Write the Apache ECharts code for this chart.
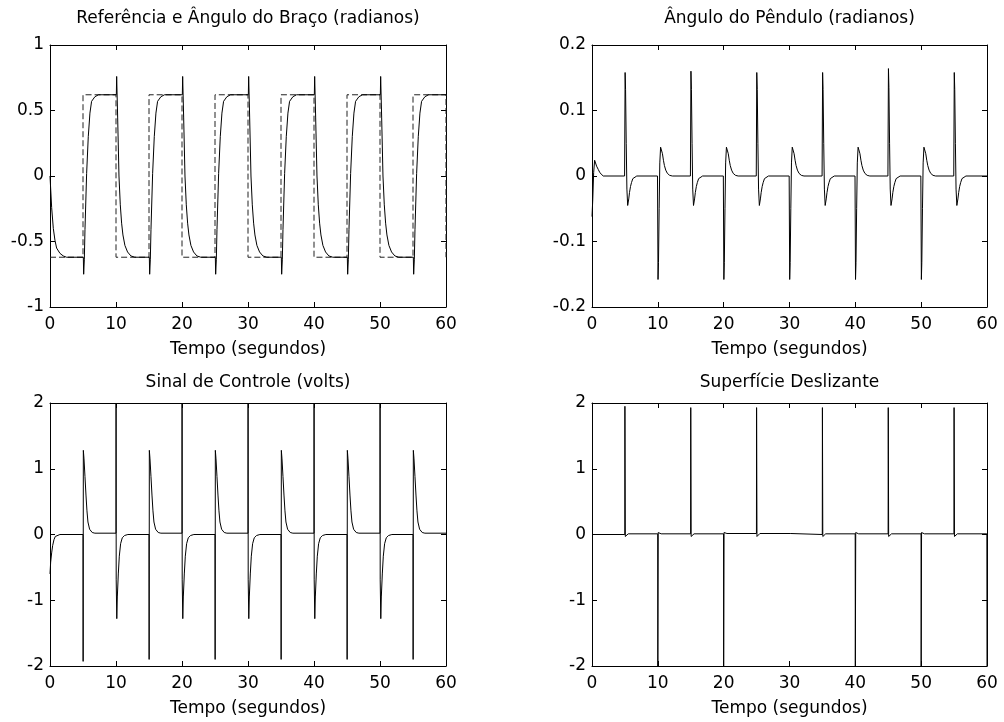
<!DOCTYPE html>
<html><head><meta charset="utf-8">
<script src="https://cdn.jsdelivr.net/npm/echarts@6/dist/echarts.min.js"></script>
<style>html,body{margin:0;padding:0;background:#fff}#c{width:1004px;height:722px}</style>
</head><body><div id="c"></div>
<script>
// ---- data: [tempo (s), valor] ----
const xTicks = [0, 10, 20, 30, 40, 50, 60];
const titles = ['Referência e Ângulo do Braço (radianos)', 'Ângulo do Pêndulo (radianos)', 'Sinal de Controle (volts)', 'Superfície Deslizante'];
const xName = 'Tempo (segundos)';

const armReference = [[0,-0.62],[5,-0.62],[5,0.62],[10,0.62],[10,-0.62],[15,-0.62],[15,0.62],[20,0.62],[20,-0.62],[25,-0.62],[25,0.62],[30,0.62],[30,-0.62],[35,-0.62],[35,0.62],[40,0.62],[40,-0.62],[45,-0.62],[45,0.62],[50,0.62],[50,-0.62],[55,-0.62],[55,0.62],[60,0.62],[60,-0.62]];

const armAngle = [[0,0],[0.25,-0.24],[0.5,-0.4],[0.75,-0.49],[1,-0.55],[1.5,-0.59],[2,-0.61],[2.5,-0.62],
[5.05,-0.62],[5.1,-0.75],[5.2,-0.64],[5.3,-0.41],[5.55,0.02],[5.8,0.3],[6.05,0.48],[6.3,0.57],[6.8,0.605],[7.35,0.62],
[10.05,0.62],[10.1,0.76],[10.25,0.45],[10.45,0],[10.65,-0.22],[10.85,-0.36],[11.05,-0.45],[11.35,-0.53],[11.75,-0.58],[12.25,-0.61],[12.85,-0.62],
[15.05,-0.62],[15.1,-0.75],[15.2,-0.64],[15.3,-0.41],[15.55,0.02],[15.8,0.3],[16.05,0.48],[16.3,0.57],[16.8,0.605],[17.35,0.62],
[20.05,0.62],[20.1,0.76],[20.25,0.45],[20.45,0],[20.65,-0.22],[20.85,-0.36],[21.05,-0.45],[21.35,-0.53],[21.75,-0.58],[22.25,-0.61],[22.85,-0.62],
[25.05,-0.62],[25.1,-0.75],[25.2,-0.64],[25.3,-0.41],[25.55,0.02],[25.8,0.3],[26.05,0.48],[26.3,0.57],[26.8,0.605],[27.35,0.62],
[30.05,0.62],[30.1,0.76],[30.25,0.45],[30.45,0],[30.65,-0.22],[30.85,-0.36],[31.05,-0.45],[31.35,-0.53],[31.75,-0.58],[32.25,-0.61],[32.85,-0.62],
[35.05,-0.62],[35.1,-0.75],[35.2,-0.64],[35.3,-0.41],[35.55,0.02],[35.8,0.3],[36.05,0.48],[36.3,0.57],[36.8,0.605],[37.35,0.62],
[40.05,0.62],[40.1,0.76],[40.25,0.45],[40.45,0],[40.65,-0.22],[40.85,-0.36],[41.05,-0.45],[41.35,-0.53],[41.75,-0.58],[42.25,-0.61],[42.85,-0.62],
[45.05,-0.62],[45.1,-0.75],[45.2,-0.64],[45.3,-0.41],[45.55,0.02],[45.8,0.3],[46.05,0.48],[46.3,0.57],[46.8,0.605],[47.35,0.62],
[50.05,0.62],[50.1,0.76],[50.25,0.45],[50.45,0],[50.65,-0.22],[50.85,-0.36],[51.05,-0.45],[51.35,-0.53],[51.75,-0.58],[52.25,-0.61],[52.85,-0.62],
[55.05,-0.62],[55.1,-0.75],[55.2,-0.64],[55.3,-0.41],[55.55,0.02],[55.8,0.3],[56.05,0.48],[56.3,0.57],[56.8,0.605],[57.35,0.62],
[60,0.62]];

const pendulumAngle = [[0,-0.062],[0.12,-0.035],[0.25,0.005],[0.4,0.024],[0.55,0.021],[0.7,0.015],[0.95,0.01],[1.2,0.005],[1.7,0],
[4.95,0],[5.03,0.158],[5.1,0.132],[5.2,0.05],[5.3,-0.02],[5.42,-0.045],[5.5,-0.046],[5.58,-0.035],[5.7,-0.025],[5.85,-0.016],[6,-0.01],[6.2,-0.004],[6.5,-0.001],[6.8,0],
[9.95,0],[10.03,-0.158],[10.1,-0.132],[10.2,-0.05],[10.3,0.02],[10.42,0.044],[10.5,0.047],[10.6,0.042],[10.7,0.034],[10.85,0.024],[11,0.016],[11.2,0.009],[11.45,0.004],[11.8,0.001],[12.2,0],
[14.95,0],[15.03,0.16],[15.1,0.132],[15.2,0.05],[15.3,-0.02],[15.42,-0.045],[15.5,-0.046],[15.58,-0.035],[15.7,-0.025],[15.85,-0.016],[16,-0.01],[16.2,-0.004],[16.5,-0.001],[16.8,0],
[19.95,0],[20.03,-0.158],[20.1,-0.132],[20.2,-0.05],[20.3,0.02],[20.42,0.044],[20.5,0.047],[20.6,0.042],[20.7,0.034],[20.85,0.024],[21,0.016],[21.2,0.009],[21.45,0.004],[21.8,0.001],[22.2,0],
[24.95,0],[25.03,0.158],[25.1,0.132],[25.2,0.05],[25.3,-0.02],[25.42,-0.045],[25.5,-0.046],[25.58,-0.035],[25.7,-0.025],[25.85,-0.016],[26,-0.01],[26.2,-0.004],[26.5,-0.001],[26.8,0],
[29.95,0],[30.03,-0.158],[30.1,-0.132],[30.2,-0.05],[30.3,0.02],[30.42,0.044],[30.5,0.047],[30.6,0.042],[30.7,0.034],[30.85,0.024],[31,0.016],[31.2,0.009],[31.45,0.004],[31.8,0.001],[32.2,0],
[34.95,0],[35.03,0.158],[35.1,0.132],[35.2,0.05],[35.3,-0.02],[35.42,-0.045],[35.5,-0.046],[35.58,-0.035],[35.7,-0.025],[35.85,-0.016],[36,-0.01],[36.2,-0.004],[36.5,-0.001],[36.8,0],
[39.95,0],[40.03,-0.158],[40.1,-0.132],[40.2,-0.05],[40.3,0.02],[40.42,0.044],[40.5,0.047],[40.6,0.042],[40.7,0.034],[40.85,0.024],[41,0.016],[41.2,0.009],[41.45,0.004],[41.8,0.001],[42.2,0],
[44.95,0],[45.03,0.164],[45.1,0.135],[45.2,0.05],[45.3,-0.02],[45.42,-0.045],[45.5,-0.046],[45.58,-0.035],[45.7,-0.025],[45.85,-0.016],[46,-0.01],[46.2,-0.004],[46.5,-0.001],[46.8,0],
[49.95,0],[50.03,-0.158],[50.1,-0.132],[50.2,-0.05],[50.3,0.02],[50.42,0.044],[50.5,0.047],[50.6,0.042],[50.7,0.034],[50.85,0.024],[51,0.016],[51.2,0.009],[51.45,0.004],[51.8,0.001],[52.2,0],
[54.95,0],[55.03,0.158],[55.1,0.132],[55.2,0.05],[55.3,-0.02],[55.42,-0.045],[55.5,-0.046],[55.58,-0.035],[55.7,-0.025],[55.85,-0.016],[56,-0.01],[56.2,-0.004],[56.5,-0.001],[56.8,0],
[60,0]];

const controlSignal = [[0,-0.6],[0.1,-0.42],[0.25,-0.28],[0.4,-0.17],[0.6,-0.08],[0.8,-0.03],[1.1,-0.01],[1.5,0],
[5,0],[5.02,-1.93],[5.05,1.28],[5.15,1.15],[5.3,0.88],[5.45,0.6],[5.6,0.36],[5.75,0.19],[6,0.08],[6.4,0.03],[6.8,0.02],
[10,0.02],[10.01,1.99],[10.03,-0.69],[10.08,-0.72],[10.12,-1.28],[10.2,-0.95],[10.35,-0.6],[10.5,-0.33],[10.7,-0.14],[10.95,-0.05],[11.3,-0.015],[11.8,0],
[15,0],[15.02,-1.9],[15.05,1.28],[15.15,1.15],[15.3,0.88],[15.45,0.6],[15.6,0.36],[15.75,0.19],[16,0.08],[16.4,0.03],[16.8,0.02],
[20,0.02],[20.01,1.99],[20.03,-0.69],[20.08,-0.72],[20.12,-1.28],[20.2,-0.95],[20.35,-0.6],[20.5,-0.33],[20.7,-0.14],[20.95,-0.05],[21.3,-0.015],[21.8,0],
[25,0],[25.02,-1.9],[25.05,1.28],[25.15,1.15],[25.3,0.88],[25.45,0.6],[25.6,0.36],[25.75,0.19],[26,0.08],[26.4,0.03],[26.8,0.02],
[30,0.02],[30.01,1.99],[30.03,-0.69],[30.08,-0.72],[30.12,-1.28],[30.2,-0.95],[30.35,-0.6],[30.5,-0.33],[30.7,-0.14],[30.95,-0.05],[31.3,-0.015],[31.8,0],
[35,0],[35.02,-1.9],[35.05,1.28],[35.15,1.15],[35.3,0.88],[35.45,0.6],[35.6,0.36],[35.75,0.19],[36,0.08],[36.4,0.03],[36.8,0.02],
[40,0.02],[40.01,1.99],[40.03,-0.69],[40.08,-0.72],[40.12,-1.28],[40.2,-0.95],[40.35,-0.6],[40.5,-0.33],[40.7,-0.14],[40.95,-0.05],[41.3,-0.015],[41.8,0],
[45,0],[45.02,-1.9],[45.05,1.28],[45.15,1.15],[45.3,0.88],[45.45,0.6],[45.6,0.36],[45.75,0.19],[46,0.08],[46.4,0.03],[46.8,0.02],
[50,0.02],[50.01,1.99],[50.03,-0.69],[50.08,-0.72],[50.12,-1.28],[50.2,-0.95],[50.35,-0.6],[50.5,-0.33],[50.7,-0.14],[50.95,-0.05],[51.3,-0.015],[51.8,0],
[55,0],[55.02,-1.9],[55.05,1.28],[55.15,1.15],[55.3,0.88],[55.45,0.6],[55.6,0.36],[55.75,0.19],[56,0.08],[56.4,0.03],[56.8,0.02],
[60,0.02]];

const slidingSurface = [[0,0],
[4.98,0],[5,1.95],[5.06,-0.03],[5.25,-0.01],[5.5,0.01],
[9.98,0.01],[10,-2],[10.06,0.03],[10.25,0.01],[10.5,0.01],
[14.98,0.01],[15,1.93],[15.06,-0.03],[15.25,-0.01],[15.5,0.01],
[19.98,0.01],[20,-2],[20.06,0.03],[20.25,0.015],[20.5,0.015],
[24.98,0.015],[25,1.93],[25.06,-0.03],[25.25,0],[25.5,0.015],
[30.2,0.015],[30.35,-0.01],[30.5,0],
[34.98,0],[35,1.93],[35.06,-0.03],[35.25,-0.01],[35.5,0.01],
[39.98,0.01],[40,-2],[40.06,0.03],[40.25,0.01],[40.5,0.01],
[44.98,0.01],[45,1.93],[45.06,-0.03],[45.25,-0.01],[45.5,0.01],
[49.98,0.01],[50,-2],[50.06,0.03],[50.25,0.01],[50.5,0.01],
[54.98,0.01],[55,1.93],[55.06,-0.03],[55.25,-0.01],[55.5,0.01],
[59.98,0.01],[60,-2]];

const yRanges = [[-1, 1, 0.5], [-0.2, 0.2, 0.1], [-2, 2, 1], [-2, 2, 1]];

// ---- layout ----
const FONT = 'DejaVu Sans';
const FS = 17;
const grids = [
  {left: 50, top: 45, width: 396, height: 262},
  {left: 592, top: 45, width: 395, height: 262},
  {left: 50, top: 403, width: 396, height: 263},
  {left: 592, top: 403, width: 395, height: 263}
];
const titleY = [10, 10, 374, 374];

const xAxes = [], yAxes = [], series = [], title = [];
grids.forEach((g, i) => {
  const base = {gridIndex: i, type: 'value', min: xTicks[0], max: xTicks[xTicks.length - 1], interval: xTicks[1] - xTicks[0],
    axisLine: {show: true, onZero: false, lineStyle: {color: '#000', width: 1}},
    axisTick: {show: true, inside: true, length: 5, lineStyle: {color: '#000'}},
    splitLine: {show: false}};
  xAxes.push(Object.assign({}, base, {position: 'bottom',
    axisLabel: {show: true, color: '#000', fontFamily: FONT, fontSize: FS, margin: 9},
    name: xName, nameLocation: 'middle', nameGap: 34,
    nameTextStyle: {color: '#000', fontFamily: FONT, fontSize: FS}}));
  xAxes.push(Object.assign({}, base, {position: 'top', axisLabel: {show: false}}));
  const r = yRanges[i];
  const ybase = {gridIndex: i, type: 'value', min: r[0], max: r[1], interval: r[2],
    axisLine: {show: true, onZero: false, lineStyle: {color: '#000', width: 1}},
    axisTick: {show: true, inside: true, length: 5, lineStyle: {color: '#000'}},
    splitLine: {show: false}};
  yAxes.push(Object.assign({}, ybase, {position: 'left',
    axisLabel: {show: true, color: '#000', fontFamily: FONT, fontSize: FS, margin: 6}}));
  yAxes.push(Object.assign({}, ybase, {position: 'right', axisLabel: {show: false}}));
  title.push({text: titles[i], left: g.left + g.width / 2, top: titleY[i], textAlign: 'center', padding: 0,
    textStyle: {color: '#000', fontFamily: FONT, fontSize: FS, fontWeight: 'normal'}});
});

function line(data, i, dashed) {
  return {type: 'line', data: data, xAxisIndex: 2 * i, yAxisIndex: 2 * i, showSymbol: false, symbol: 'none',
    silent: true, animation: false, z: dashed ? 2 : 3,
    lineStyle: {color: dashed ? '#222' : '#000', width: 1, type: dashed ? [6, 3] : 'solid'}};
}
series.push(line(armReference, 0, true));
series.push(line(armAngle, 0, false));
series.push(line(pendulumAngle, 1, false));
series.push(line(controlSignal, 2, false));
series.push(line(slidingSurface, 3, false));

const chart = echarts.init(document.getElementById('c'), null, {renderer: 'canvas'});
chart.setOption({backgroundColor: '#fff', animation: false, title: title,
  grid: grids.map(g => Object.assign({containLabel: false}, g)),
  xAxis: xAxes, yAxis: yAxes, series: series});
</script></body></html>
